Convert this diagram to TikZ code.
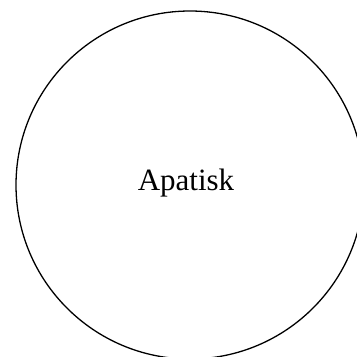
\documentclass[tikz,border=0pt]{standalone}
\usepackage{fontspec}
\setmainfont{Liberation Serif}
\begin{document}
\begin{tikzpicture}[x=1pt,y=-1pt,
  bubble/.style={draw=black,line width=1.3pt,circle,minimum size=348pt,inner sep=0pt},
  label/.style={font=\fontsize{31}{36}\selectfont,inner sep=0pt}]
\useasboundingbox (0,0) rectangle (357,357);
\clip (0,0) rectangle (357,357);
\node[bubble] (c) at (190,185) {};
\node[label] (t) at (186,183) {Apatisk};
\end{tikzpicture}
\end{document}
